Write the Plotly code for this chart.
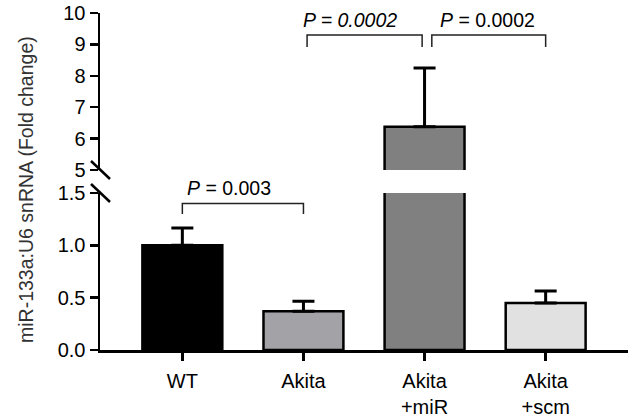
import plotly.graph_objects as go

# ---- data ----
categories = ["WT", "Akita", "Akita<br>+miR", "Akita<br>+scm"]
values = [1.0, 0.37, 6.38, 0.45]
errors = [0.165, 0.095, 1.87, 0.113]
colors = ["#000000", "#a3a3a7", "#808080", "#e1e1e1"]
lower_ticks = [0.0, 0.5, 1.0, 1.5]
upper_ticks = [5, 6, 7, 8, 9, 10]
lower_range = [0, 1.5]
upper_range = [5, 10]
# comparisons: (from index, to index, label, axis)
comparisons = [
    (0, 1, "<i>P</i> = 0.003", "y"),
    (1, 2, "<i>P = 0.0002</i>", "y2"),
    (2, 3, "<i>P</i> = 0.0002", "y2"),
]

FONT = "Liberation Sans, Arial, sans-serif"
x_idx = list(range(len(categories)))

lower_err = [e if v <= lower_range[1] else 0 for v, e in zip(values, errors)]
upper_err = [e if v > upper_range[0] else 0 for v, e in zip(values, errors)]

fig = go.Figure()
common = dict(
    x=x_idx, y=values, width=0.66,
    marker=dict(color=colors, line=dict(color="black", width=2.5)),
    showlegend=False, hoverinfo="skip",
)
fig.add_trace(go.Bar(**common, yaxis="y",
                     error_y=dict(type="data", symmetric=False, array=lower_err,
                                  arrayminus=[0] * 4, color="black",
                                  thickness=3, width=11)))
fig.add_trace(go.Bar(**common, yaxis="y2",
                     error_y=dict(type="data", symmetric=False, array=upper_err,
                                  arrayminus=[0] * 4, color="black",
                                  thickness=3, width=11)))

lower_top_px = 157
plot_h = 337
d_low = lower_top_px / plot_h
d_up = 180 / plot_h

axis_common = dict(showline=True, linecolor="black", linewidth=2.5,
                   ticks="outside", ticklen=8, tickwidth=2.5, tickcolor="black",
                   showgrid=False, zeroline=False,
                   tickfont=dict(family=FONT, size=20, color="black"))

fig.update_layout(
    width=633, height=416,
    margin=dict(l=100, r=5, t=13, b=66, autoexpand=False),
    paper_bgcolor="white", plot_bgcolor="white",
    bargap=0,
    xaxis=dict(range=[-0.68, 3.68], tickvals=x_idx, ticktext=categories,
               showline=True, linecolor="black", linewidth=2.5,
               ticks="outside", ticklen=8, tickwidth=2.5, tickcolor="black",
               showgrid=False, zeroline=False, anchor="y",
               ticklabelstandoff=3,
               tickfont=dict(family=FONT, size=20, color="black")),
    yaxis=dict(domain=[0, d_low], range=lower_range, tickvals=lower_ticks,
               tickformat=".1f", anchor="x", **axis_common),
    yaxis2=dict(domain=[d_up, 1], range=upper_range, tickvals=upper_ticks,
                anchor="x", **axis_common),
)

# significance brackets (x0, x1 inset; label shift in px from bracket start)
for (i, j, label, ax) in comparisons:
    if ax == "y":
        y_line, y_leg = 1.40, 1.30
        x0, x1 = i, j
        shift = 3
    else:
        y_line, y_leg = 9.30, 8.92
        x0 = i + (0.03 if i == 1 else 0.06)
        x1 = j - (0.02 if j == 2 else 0.0)
        shift = -6 if i == 1 else 6
    fig.add_annotation(x=x0, y=y_line, xref="x", yref=ax, text=label,
                       showarrow=False, xanchor="left", yanchor="bottom",
                       xshift=shift, yshift=2,
                       font=dict(family=FONT, size=19.5, color="black"))
    fig.add_shape(type="path",
                  path=f"M {x0} {y_leg} L {x0} {y_line} L {x1} {y_line} L {x1} {y_leg}",
                  xref="x", yref=ax, line=dict(color="#222", width=1.5))

# axis break marks
for yref, ya in (("y domain", 1), ("y2 domain", 0)):
    fig.add_shape(type="line", xref="x domain", yref=yref,
                  xsizemode="pixel", ysizemode="pixel",
                  xanchor=0, yanchor=ya, x0=-9, x1=10, y0=9, y1=-9,
                  line=dict(color="black", width=2.5), layer="above")

# y-axis title
fig.add_annotation(xref="paper", yref="paper", x=0, y=(350 - 190) / plot_h,
                   xshift=-87, text="miR-133a:U6 snRNA (Fold change)",
                   textangle=-90, showarrow=False,
                   font=dict(family=FONT, size=19.5, color="#333"))

fig.write_html("out.html",
               config={"displayModeBar": False, "staticPlot": True},
               post_script="document.body.style.margin='0';"
                           "document.body.style.overflow='hidden';")
